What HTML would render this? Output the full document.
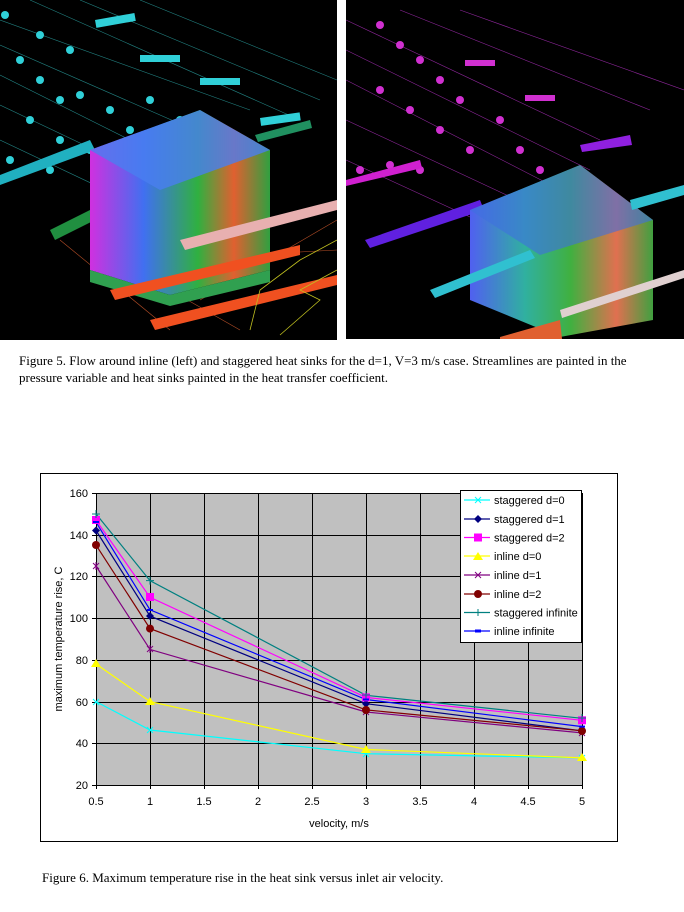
<!DOCTYPE html>
<html><head><meta charset="utf-8"><style>
body{margin:0;background:#fff;width:684px;height:912px;position:relative;overflow:hidden;font-family:"Liberation Serif",serif}
.cap{position:absolute;font-size:13px;color:#000;line-height:17px;white-space:nowrap}
svg{position:absolute;left:0;top:0}
</style></head><body>
<svg width="684" height="912" viewBox="0 0 684 912">
<defs>
<linearGradient id="hs1" x1="0" y1="0" x2="1" y2="0"><stop offset="0" stop-color="#d030e0"/><stop offset="0.3" stop-color="#4070f0"/><stop offset="0.6" stop-color="#30b040"/><stop offset="0.8" stop-color="#e06030"/><stop offset="1" stop-color="#30a040"/></linearGradient>
<linearGradient id="hs2" x1="0" y1="0" x2="1" y2="0"><stop offset="0" stop-color="#5060f0"/><stop offset="0.3" stop-color="#30b0a0"/><stop offset="0.55" stop-color="#40b040"/><stop offset="0.8" stop-color="#e07050"/><stop offset="1" stop-color="#40a040"/></linearGradient>
</defs>
<rect x="0" y="0" width="337" height="340" fill="#000"/>
<g stroke="#2aa0a0" stroke-width="0.6" opacity="0.8">
<line x1="0" y1="20" x2="250" y2="110"/><line x1="0" y1="45" x2="240" y2="150"/><line x1="0" y1="75" x2="230" y2="190"/><line x1="0" y1="105" x2="200" y2="200"/><line x1="0" y1="140" x2="190" y2="230"/><line x1="30" y1="0" x2="300" y2="120"/><line x1="80" y1="0" x2="320" y2="100"/><line x1="140" y1="0" x2="337" y2="80"/>
</g>
<g stroke="#e06030" stroke-width="0.6" opacity="0.8">
<line x1="60" y1="240" x2="170" y2="330"/><line x1="100" y1="250" x2="240" y2="330"/><line x1="150" y1="260" x2="337" y2="250"/><line x1="200" y1="300" x2="337" y2="220"/>
</g>
<g fill="#30d0d8">
<rect x="95" y="20" width="40" height="8" transform="rotate(-10 95 20)"/><rect x="140" y="55" width="40" height="7"/><rect x="200" y="78" width="40" height="7"/><rect x="260" y="118" width="40" height="8" transform="rotate(-8 260 118)"/>
<circle cx="20" cy="60" r="4"/><circle cx="40" cy="80" r="4"/><circle cx="60" cy="100" r="4"/><circle cx="80" cy="95" r="4"/><circle cx="110" cy="110" r="4"/><circle cx="130" cy="130" r="4"/><circle cx="60" cy="140" r="4"/><circle cx="30" cy="120" r="4"/><circle cx="10" cy="160" r="4"/><circle cx="50" cy="170" r="4"/><circle cx="90" cy="150" r="4"/><circle cx="150" cy="100" r="4"/><circle cx="180" cy="120" r="4"/><circle cx="40" cy="35" r="4"/><circle cx="70" cy="50" r="4"/><circle cx="5" cy="15" r="4"/>
</g>
<polygon points="0,175 90,140 95,150 0,185" fill="#20b0c0"/>
<polygon points="50,230 100,205 105,215 55,240" fill="#208f40"/>
<polygon points="255,135 310,120 312,128 258,142" fill="#209060"/>
<polygon points="90,150 200,110 270,150 270,270 170,295 90,270" fill="url(#hs1)"/>
<polygon points="90,150 200,110 270,150 160,190" fill="#4a7ef0" opacity="0.8"/>
<polygon points="90,270 170,295 270,270 270,282 170,306 90,282" fill="#30a050"/>
<g fill="#f05020"><polygon points="110,290 300,245 300,255 115,300"/><polygon points="150,320 337,275 337,285 155,330"/></g>
<polygon points="180,240 337,200 337,210 185,250" fill="#e8b0b0"/>
<g stroke="#c0c020" fill="none" stroke-width="0.8"><polyline points="250,330 260,290 300,260 337,240"/><polyline points="280,335 320,300 300,290 337,270"/></g>
<rect x="346" y="0" width="338" height="339" fill="#000"/>
<g stroke="#b030c0" stroke-width="0.6" opacity="0.8">
<line x1="346" y1="20" x2="600" y2="140"/><line x1="346" y1="50" x2="590" y2="170"/><line x1="346" y1="80" x2="580" y2="200"/><line x1="346" y1="120" x2="560" y2="220"/><line x1="346" y1="160" x2="520" y2="240"/><line x1="400" y1="10" x2="650" y2="110"/><line x1="460" y1="10" x2="684" y2="90"/>
</g>
<g fill="#d030d0">
<circle cx="380" cy="25" r="4"/><circle cx="400" cy="45" r="4"/><circle cx="420" cy="60" r="4"/><circle cx="440" cy="80" r="4"/><circle cx="380" cy="90" r="4"/><circle cx="410" cy="110" r="4"/><circle cx="440" cy="130" r="4"/><circle cx="470" cy="150" r="4"/><circle cx="360" cy="170" r="4"/><circle cx="390" cy="165" r="4"/><circle cx="420" cy="170" r="4"/><circle cx="460" cy="100" r="4"/><circle cx="500" cy="120" r="4"/><circle cx="520" cy="150" r="4"/><circle cx="540" cy="170" r="4"/>
<rect x="465" y="60" width="30" height="6"/><rect x="525" y="95" width="30" height="6"/>
</g>
<polygon points="580,145 630,135 632,145 582,152" fill="#9020e0"/>
<polygon points="346,180 420,160 422,168 346,186" fill="#d020d0"/>
<polygon points="365,240 480,200 484,210 370,248" fill="#6020e0"/>
<polygon points="470,210 580,165 653,220 653,320 560,337 470,300" fill="url(#hs2)"/>
<polygon points="470,210 580,165 653,220 540,255" fill="#4070e0" opacity="0.6"/>
<polygon points="630,200 684,185 684,195 632,210" fill="#30c0d0"/>
<polygon points="430,290 530,250 535,258 435,298" fill="#30c0d0"/>
<polygon points="560,310 684,270 684,278 562,318" fill="#e0d0d0"/>
<polygon points="500,337 560,320 562,339 500,339" fill="#e06030"/>
</svg>
<div class="cap" style="left:19px;top:352px">Figure 5. Flow around inline (left) and staggered heat sinks for the d=1, V=3 m/s case. Streamlines are painted in the<br>pressure variable and heat sinks painted in the heat transfer coefficient.</div>

<svg width="684" height="912" viewBox="0 0 684 912" style="font-family:'Liberation Sans',sans-serif">
<rect x="40.5" y="473.5" width="577" height="368" fill="#fff" stroke="#000" stroke-width="1"/>
<rect x="96" y="493" width="486" height="292" fill="#c0c0c0"/>
<g stroke="#000" stroke-width="1">
<line x1="96" y1="493.5" x2="582" y2="493.5"/><line x1="96" y1="535.5" x2="582" y2="535.5"/><line x1="96" y1="576.5" x2="582" y2="576.5"/><line x1="96" y1="618.5" x2="582" y2="618.5"/><line x1="96" y1="660.5" x2="582" y2="660.5"/><line x1="96" y1="702.5" x2="582" y2="702.5"/><line x1="96" y1="743.5" x2="582" y2="743.5"/><line x1="92" y1="785.5" x2="582" y2="785.5"/>
<line x1="96.5" y1="493" x2="96.5" y2="789"/><line x1="150.5" y1="493" x2="150.5" y2="789"/><line x1="204.5" y1="493" x2="204.5" y2="789"/><line x1="258.5" y1="493" x2="258.5" y2="789"/><line x1="312.5" y1="493" x2="312.5" y2="789"/><line x1="366.5" y1="493" x2="366.5" y2="789"/><line x1="420.5" y1="493" x2="420.5" y2="789"/><line x1="474.5" y1="493" x2="474.5" y2="789"/><line x1="528.5" y1="493" x2="528.5" y2="789"/><line x1="582.5" y1="493" x2="582.5" y2="789"/>
<line x1="92" y1="493.5" x2="96" y2="493.5"/><line x1="92" y1="535.5" x2="96" y2="535.5"/><line x1="92" y1="576.5" x2="96" y2="576.5"/><line x1="92" y1="618.5" x2="96" y2="618.5"/><line x1="92" y1="660.5" x2="96" y2="660.5"/><line x1="92" y1="702.5" x2="96" y2="702.5"/><line x1="92" y1="743.5" x2="96" y2="743.5"/>
</g>
<g font-size="11" text-anchor="end" fill="#000">
<text x="88" y="497">160</text><text x="88" y="539">140</text><text x="88" y="580">120</text><text x="88" y="622">100</text><text x="88" y="664">80</text><text x="88" y="706">60</text><text x="88" y="747">40</text><text x="88" y="789">20</text>
</g>
<g font-size="11" text-anchor="middle" fill="#000">
<text x="96" y="805">0.5</text><text x="150" y="805">1</text><text x="204" y="805">1.5</text><text x="258" y="805">2</text><text x="312" y="805">2.5</text><text x="366" y="805">3</text><text x="420" y="805">3.5</text><text x="474" y="805">4</text><text x="528" y="805">4.5</text><text x="582" y="805">5</text>
<text x="339" y="827">velocity,  m/s</text>
<text transform="translate(62,639) rotate(-90)">maximum temperature rise, C</text>
</g>
<g fill="none" stroke-width="1.2">
<polyline stroke="#00ffff" points="96,701.6 150,730 366,753.7 582,757.9"/>
<polyline stroke="#000080" points="96,530.5 150,616.1 366,703.7 582,730.8"/>
<polyline stroke="#ff00ff" points="96,520.1 150,597.3 366,697.4 582,720.3"/>
<polyline stroke="#ffff00" points="96,664 150,701.6 366,749.5 582,757.9"/>
<polyline stroke="#800080" points="96,566 150,649.4 366,712 582,732.9"/>
<polyline stroke="#800000" points="96,545.1 150,628.6 366,709.9 582,730.8"/>
<polyline stroke="#008080" points="96,513.9 150,580.6 366,695.3 582,718.3"/>
<polyline stroke="#0000ff" points="96,522.2 150,609.8 366,699.5 582,726.6"/>
</g>
<g stroke="#00ffff" stroke-width="1"><path d="M93,699l6,6M99,699l-6,6M147,727l6,6M153,727l-6,6M363,751l6,6M369,751l-6,6M579,755l6,6M585,755l-6,6"/></g>
<g fill="#000080"><path d="M96,526.5l4,4-4,4-4-4z M150,612l4,4-4,4-4-4z M366,699.7l4,4-4,4-4-4z M582,726.8l4,4-4,4-4-4z"/></g>
<g fill="#ff00ff"><rect x="92" y="516" width="8" height="8"/><rect x="146" y="593" width="8" height="8"/><rect x="362" y="693.4" width="8" height="8"/><rect x="578" y="716.3" width="8" height="8"/></g>
<g fill="#ffff00"><path d="M96,659l5,8h-10z M150,697l5,8h-10z M366,745l5,8h-10z M582,753l5,8h-10z"/></g>
<g stroke="#800080"><path d="M93,563l6,6M99,563l-6,6M96,562v8M147,646l6,6M153,646l-6,6M150,645v8M363,709l6,6M369,709l-6,6M579,730l6,6M585,730l-6,6"/></g>
<g fill="#800000"><circle cx="96" cy="545" r="4"/><circle cx="150" cy="628.6" r="4"/><circle cx="366" cy="710" r="4"/><circle cx="582" cy="731" r="4"/></g>
<g stroke="#008080"><path d="M92,514h8M96,510v8M146,580.6h8M150,576.6v8M362,695h8M366,691v8M578,718h8M582,714v8"/></g>
<g stroke="#0000ff" stroke-width="2"><path d="M93,522h6M147,610h6M363,699.5h6M579,726.6h6"/></g>
<rect x="460.5" y="490.5" width="121" height="152" fill="#fff" stroke="#000"/>
<g stroke-width="1.2">
<line x1="464" y1="500" x2="490" y2="500" stroke="#00ffff"/>
<line x1="464" y1="519" x2="490" y2="519" stroke="#000080"/>
<line x1="464" y1="537.5" x2="490" y2="537.5" stroke="#ff00ff"/>
<line x1="464" y1="556" x2="490" y2="556" stroke="#ffff00"/>
<line x1="464" y1="575" x2="490" y2="575" stroke="#800080"/>
<line x1="464" y1="594" x2="490" y2="594" stroke="#800000"/>
<line x1="464" y1="612.5" x2="490" y2="612.5" stroke="#008080"/>
<line x1="464" y1="631" x2="490" y2="631" stroke="#0000ff"/>
</g>
<path d="M475,497l6,6M481,497l-6,6" stroke="#00ffff"/>
<path d="M478,515l4,4-4,4-4-4z" fill="#000080"/>
<rect x="474" y="533.5" width="8" height="8" fill="#ff00ff"/>
<path d="M478,552l5,8h-10z" fill="#ffff00"/>
<path d="M475,572l6,6M481,572l-6,6" stroke="#800080"/>
<circle cx="478" cy="594" r="4" fill="#800000"/>
<path d="M478,609v7" stroke="#008080"/>
<path d="M475,631h6" stroke="#0000ff" stroke-width="3"/>
<g font-size="11" fill="#000">
<text x="494" y="504">staggered d=0</text><text x="494" y="523">staggered d=1</text><text x="494" y="541.5">staggered d=2</text><text x="494" y="560">inline d=0</text><text x="494" y="579">inline d=1</text><text x="494" y="598">inline d=2</text><text x="494" y="616.5">staggered infinite</text><text x="494" y="635">inline infinite</text>
</g>
</svg>
<div class="cap" style="left:42px;top:869px">Figure 6. Maximum temperature rise in the heat sink versus inlet air velocity.</div>
</body></html>
